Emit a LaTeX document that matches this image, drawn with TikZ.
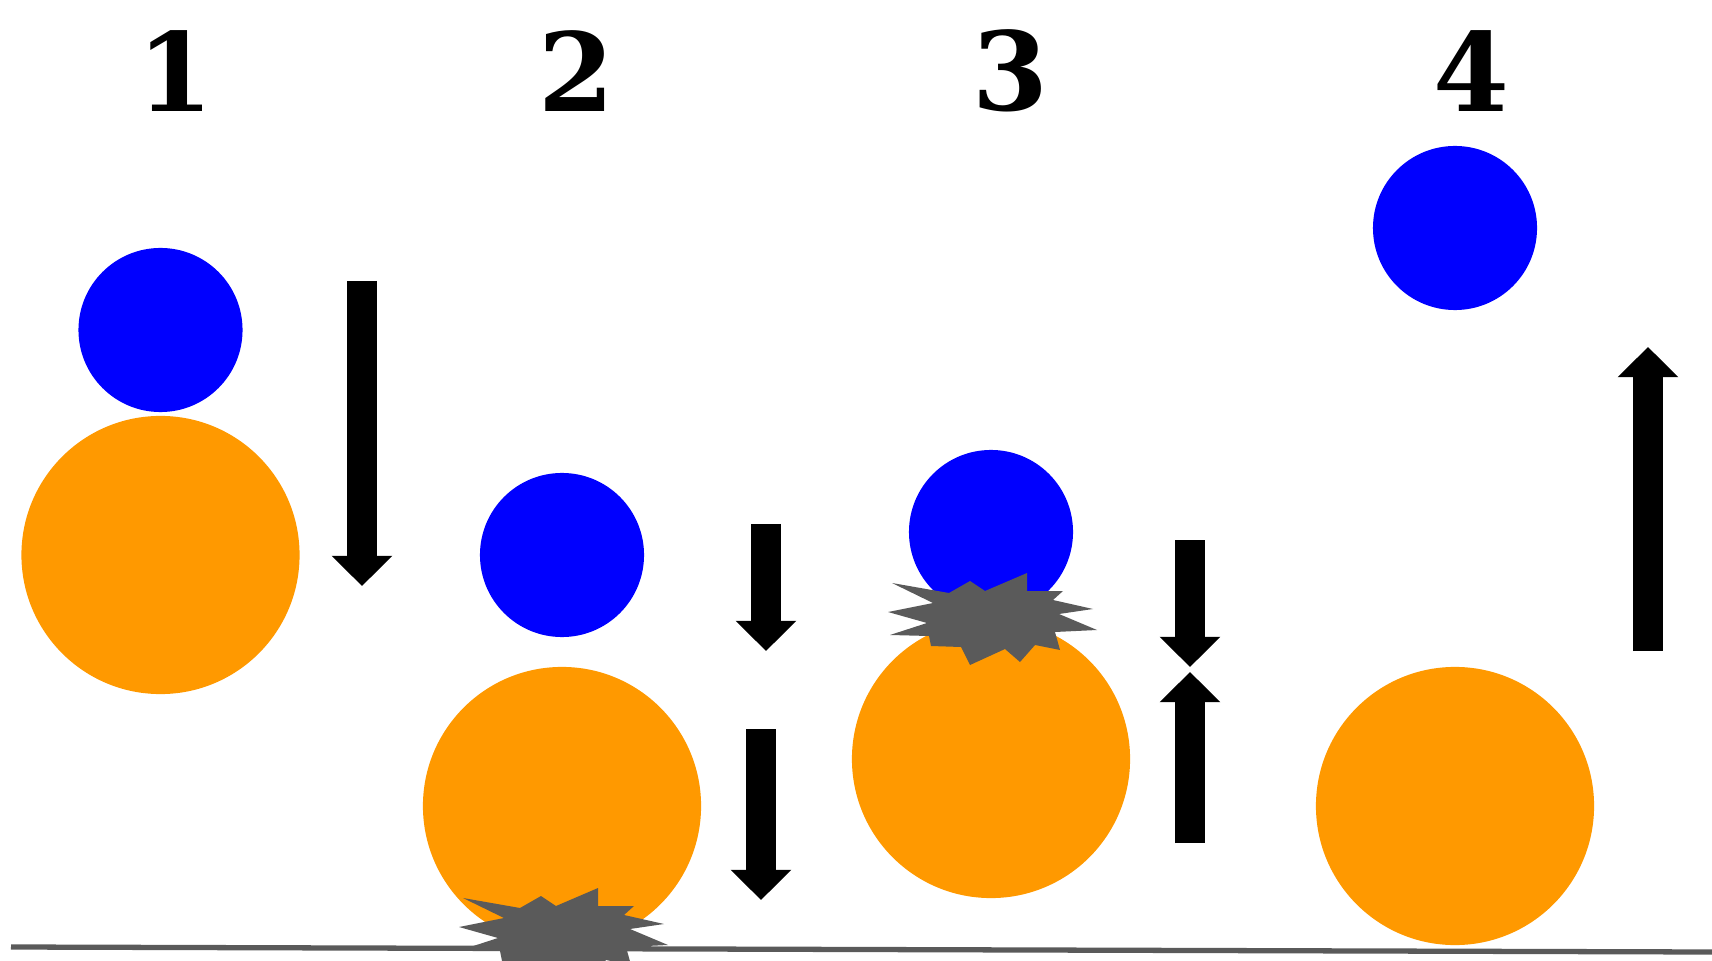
\documentclass[tikz,border=0pt]{standalone}
\usepackage{fontspec}
\setmainfont{DejaVu Serif}
\usetikzlibrary{arrows.meta}
\definecolor{ballblue}{RGB}{0,0,255}
\definecolor{ballorange}{RGB}{255,153,0}
\definecolor{burstgray}{RGB}{90,90,90}
\begin{document}
\begin{tikzpicture}[x=0.01cm,y=-0.01cm,
  small/.style={circle,fill=ballblue,inner sep=0pt,minimum size=1.64cm},
  big/.style={circle,fill=ballorange,inner sep=0pt,minimum size=2.78cm},
  num/.style={font=\fontsize{31}{36}\selectfont\bfseries,inner sep=0pt},
  fatarrow/.style={line width=8.5pt,-{Triangle[width=16.8pt,length=8.6pt]}},
  burst/.style={fill=burstgray}]
\useasboundingbox (0,0) rectangle (1712,961);
\newcommand{\burstpath}[1]{%
  \fill[burst,shift={#1}] (-103,-7) -- (-58,-16) -- (-99,-36) -- (-42,-26) -- (-21,-38) -- (-6,-28)
   -- (36,-46) -- (36,-28) -- (72,-28) -- (62,-19) -- (102,-10) -- (68,-5) -- (106,11) -- (64,13)
   -- (69,31) -- (44,26) -- (29,43) -- (14,30) -- (-21,46) -- (-30,28) -- (-60,27) -- (-62,17)
   -- (-101,16) -- (-64,4) -- cycle;}
% labels
\node[num] (n1) at (175,71) {1};
\node[num] (n2) at (576,71) {2};
\node[num] (n3) at (1010,71) {3};
\node[num] (n4) at (1471,71) {4};
% scene 1
\node[big] (o1) at (160.5,555) {};
\node[small] (b1) at (160.5,330) {};
% scene 2
\node[big] (o2) at (562,806) {};
\node[small] (b2) at (562,555) {};
% scene 3
\node[big] (o3) at (991,759) {};
\node[small] (b3) at (991,532) {};
\burstpath{(991,619)}
% scene 4
\node[big] (o4) at (1455,806) {};
\node[small] (b4) at (1455,228) {};
% ground
\coordinate (g1) at (11,947);
\coordinate (g2) at (1712,952);
\draw[burstgray,line width=1.5pt] (g1) -- (g2);
\burstpath{(562,934)}
% arrows
\coordinate (a1s) at (362,281); \coordinate (a1e) at (362,586);
\coordinate (a2s) at (766,524); \coordinate (a2e) at (766,651);
\coordinate (a3s) at (761,729); \coordinate (a3e) at (761,900);
\coordinate (a4s) at (1190,540); \coordinate (a4e) at (1190,667);
\coordinate (a5s) at (1190,843); \coordinate (a5e) at (1190,672);
\coordinate (a6s) at (1648,651); \coordinate (a6e) at (1648,347);
\draw[fatarrow] (a1s) -- (a1e);
\draw[fatarrow] (a2s) -- (a2e);
\draw[fatarrow] (a3s) -- (a3e);
\draw[fatarrow] (a4s) -- (a4e);
\draw[fatarrow] (a5s) -- (a5e);
\draw[fatarrow] (a6s) -- (a6e);
\end{tikzpicture}
\end{document}
